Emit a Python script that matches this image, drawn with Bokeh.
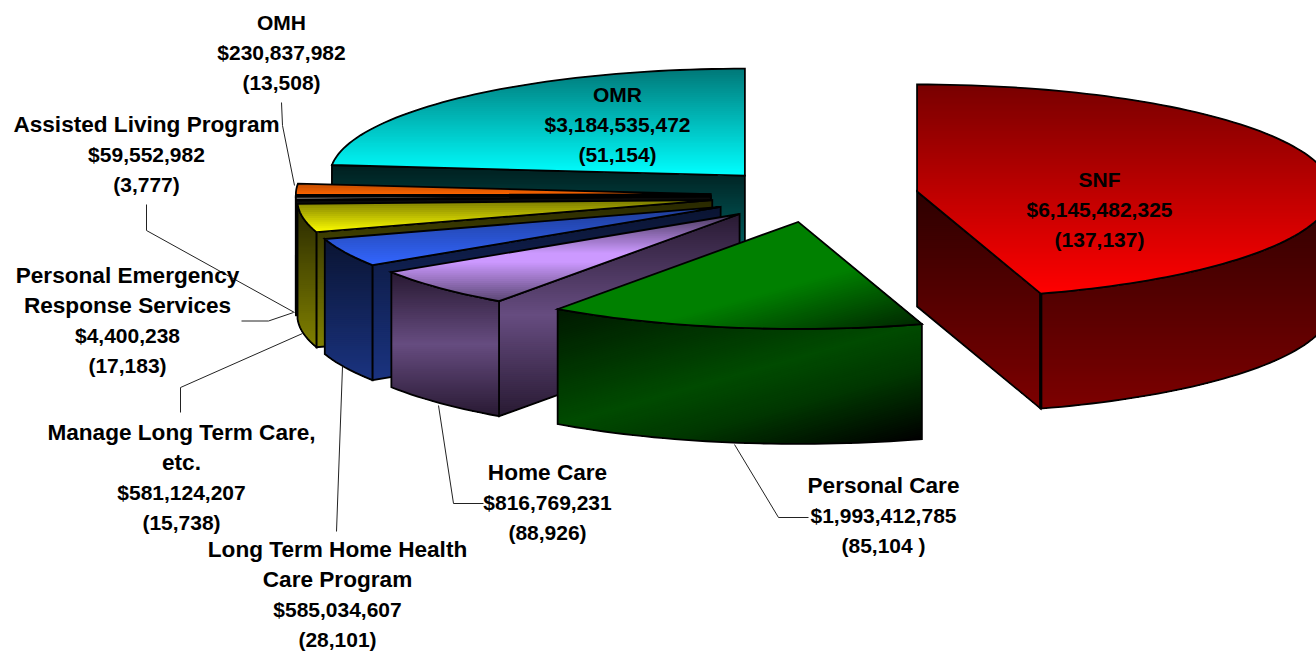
from bokeh.plotting import figure
from bokeh.models import Range1d, ColumnDataSource
from bokeh.core.properties import value
from bokeh.embed import file_html
from bokeh.resources import INLINE
import numpy as np

# ---- data -------------------------------------------------------------
categories = ["SNF", "Personal Care", "Home Care", "Long Term Home Health Care Program",
              "Manage Long Term Care, etc.", "Personal Emergency Response Services",
              "Assisted Living Program", "OMH", "OMR"]
spending = [6145482325, 1993412785, 816769231, 585034607, 581124207,
            4400238, 59552982, 230837982, 3184535472]
recipients = ["(137,137)", "(85,104 )", "(88,926)", "(28,101)", "(15,738)",
              "(17,183)", "(3,777)", "(13,508)", "(51,154)"]
name_lines = [["SNF"], ["Personal Care"], ["Home Care"],
              ["Long Term Home Health", "Care Program"],
              ["Manage Long Term Care,", "etc."],
              ["Personal Emergency", "Response Services"],
              ["Assisted Living Program"], ["OMH"], ["OMR"]]

# ---- layout ------------------------------------------------------------
W, H = 1316, 651
CX, CY = 814, 195      # pie centre
RX, RY = 415, 107      # ellipse radii of the tilted pie
DEPTH = 115
EXPLODE = 0.25
label_pos = [(1099, 178.5), (883, 485), (547, 471.5), (337, 549), (181, 431.5),
             (127, 275), (146, 124), (281, 22), (617, 94)]
LINE_PITCH = 30
leaders = [
    [(281, 102), (282, 125), (294, 185)],
    [(146, 204), (146, 230), (294, 312)],
    [(241, 320.5), (268, 320.5), (293, 312)],
    [(180, 412), (180, 387), (302, 333)],
    [(336, 531), (342, 366)],
    [(438, 405), (453, 503), (483, 503)],
    [(734, 444), (778, 517), (808, 517)],
]

# gradient styles: (direction, top stops, side stops)
V = (0, 1)
D = (100, 358)
styles = [
    (V, [(0, (120, 0, 0)), (1, (255, 0, 0))], [(0, (45, 0, 0)), (1, (125, 0, 0))]),
    (D, [(0, (0, 128, 0)), (.45, (0, 128, 0)), (1, (0, 40, 0))],
        [(0, (0, 25, 0)), (.5, (0, 75, 0)), (.7, (0, 55, 0)), (1, (0, 0, 0))]),
    (V, [(0, (70, 55, 90)), (.45, (204, 153, 255)), (.55, (204, 153, 255)), (1, (90, 70, 115))],
        [(0, (40, 25, 50)), (.5, (102, 76, 128)), (1, (40, 25, 50))]),
    (V, [(0, (30, 60, 150)), (1, (51, 102, 255))], [(0, (10, 20, 50)), (1, (26, 51, 128))]),
    (V, [(0, (120, 120, 0)), (1, (255, 255, 0))], [(0, (40, 40, 0)), (1, (128, 128, 0))]),
    (V, [(0, (128, 128, 128)), (1, (128, 128, 128))], [(0, (10, 10, 10)), (1, (10, 10, 10))]),
    (V, [(0, (128, 128, 128)), (1, (150, 150, 150))], [(0, (10, 10, 10)), (1, (10, 10, 10))]),
    (V, [(0, (190, 75, 0)), (1, (255, 102, 0))], [(0, (5, 2, 0)), (1, (10, 4, 0))]),
    (V, [(0, (0, 120, 120)), (1, (0, 255, 255))], [(0, (0, 30, 30)), (1, (0, 128, 128))]),
]
DRAW_ORDER = [8, 7, 6, 5, 4, 3, 2, 1, 0]

# ---- geometry ----------------------------------------------------------
def lerp(stops, t):
    t = min(max(t, 0), 1)
    for (a, ca), (b, cb) in zip(stops, stops[1:]):
        if t <= b:
            k = (t - a) / (b - a) if b > a else 0
            return tuple(int(round(ca[i] + (cb[i] - ca[i]) * k)) for i in range(3))
    return stops[-1][1]

def hexc(c):
    return "#%02x%02x%02x" % c

def clip(poly, n, t0):
    out = []
    m = len(poly)
    for i in range(m):
        p, q = poly[i], poly[(i + 1) % m]
        dp = p[0] * n[0] + p[1] * n[1] - t0
        dq = q[0] * n[0] + q[1] * n[1] - t0
        if dp >= 0:
            out.append(p)
        if (dp >= 0) != (dq >= 0):
            k = dp / (dp - dq)
            out.append((p[0] + (q[0] - p[0]) * k, p[1] + (q[1] - p[1]) * k))
    return out

rows = dict(xs=[], ys=[], fc=[], fa=[], lc=[], la=[], lw=[])
def add(poly, fc, fa, lc, la, lw):
    rows["xs"].append([p[0] for p in poly])
    rows["ys"].append([p[1] for p in poly])
    rows["fc"].append(fc); rows["fa"].append(fa)
    rows["lc"].append(lc); rows["la"].append(la); rows["lw"].append(lw)

def face(poly, direction, stops, step=2.0, lw=1.8):
    L = float(np.hypot(*direction))
    n = (direction[0] / L, direction[1] / L)
    ts = [p[0] * n[0] + p[1] * n[1] for p in poly]
    lo, hi = min(ts), max(ts)
    k = max(int((hi - lo) / step), 1)
    for i in range(k):
        t0 = lo + (hi - lo) * i / k
        sub = poly if i == 0 else clip(poly, n, t0)
        if len(sub) >= 3:
            add(sub, hexc(lerp(stops, (i + .5) / k)), 1, "#000000", 0, 0)
    add(poly, "#000000", 0, "#000000", 1, lw)

vals = np.array(spending, dtype=float)
sweep = vals / vals.sum() * 360.0
ends = 180.0 + np.cumsum(sweep)
starts = ends - sweep

def rim(c, phi, dz=0):
    r = np.radians(phi)
    # phi runs clockwise on screen, measured from 6 o'clock
    return (c[0] - RX * np.sin(r), c[1] + RY * np.cos(r) + dz)

def arc(c, a, b, dz=0):
    n = max(int(abs(b - a) / 1.5), 1) + 1
    return [rim(c, x, dz) for x in np.linspace(a, b, n)]

front_edge = None
for i in DRAW_ORDER:
    a, b = starts[i], ends[i]
    mid = np.radians((a + b) / 2)
    c = (CX - EXPLODE * RX * np.sin(mid), CY + EXPLODE * RY * np.cos(mid))
    c2 = (c[0], c[1] + DEPTH)
    direction, top_stops, side_stops = styles[i]
    # radial walls facing the viewer
    if 0 < a % 360 < 180:
        face([c, rim(c, a), rim(c, a, DEPTH), c2], direction, side_stops)
    if 180 < b % 360 < 360:
        face([c, rim(c, b), rim(c, b, DEPTH), c2], direction, side_stops)
        front_edge = (rim(c, b), rim(c, b, DEPTH))
    # outer wall: the part of the rim turned to the viewer (phi in -90..90 mod 360)
    for lo, hi in ((-90, 90), (270, 450)):
        p_, q_ = max(a, lo), min(b, hi)
        if q_ > p_:
            top = arc(c, p_, q_)
            bot = arc(c, p_, q_, DEPTH)
            face(top + bot[::-1], direction, side_stops)
    # top
    face([c] + arc(c, a, b), direction, top_stops)

# ---- figure ------------------------------------------------------------
p = figure(width=W, height=H, x_range=Range1d(0, W), y_range=Range1d(H, 0),
           output_backend="svg", toolbar_location=None, min_border=0,
           outline_line_color=None, background_fill_color="white")
p.axis.visible = False
p.grid.visible = False

p.patches("xs", "ys", source=ColumnDataSource(rows), fill_color="fc", fill_alpha="fa",
          line_color="lc", line_alpha="la", line_width="lw", line_join="miter")
p.line([front_edge[0][0], front_edge[1][0]], [front_edge[0][1], front_edge[1][1]],
       line_color="#000000", line_width=3.2)

for pts in leaders:
    p.line([q[0] for q in pts], [q[1] for q in pts], line_color="#222222", line_width=1)

tx, ty, tt, ts_ = [], [], [], []
for i in range(len(categories)):
    lines = name_lines[i] + ["${:,}".format(spending[i]), recipients[i]]
    for j, s in enumerate(lines):
        tx.append(label_pos[i][0]); ty.append(label_pos[i][1] + j * LINE_PITCH); tt.append(s)
        # the names are set wider than the figures in the source
        wide = j < len(name_lines[i]) and len(s) > 3
        ts_.append("22.6px" if wide else "21px")
p.text(tx, ty, text=tt, text_font=value("Liberation Sans"), text_font_style="bold",
       text_font_size=ts_, text_color="#000000", text_align="center", text_baseline="middle")

open("out.html", "w").write(file_html(p, INLINE))
